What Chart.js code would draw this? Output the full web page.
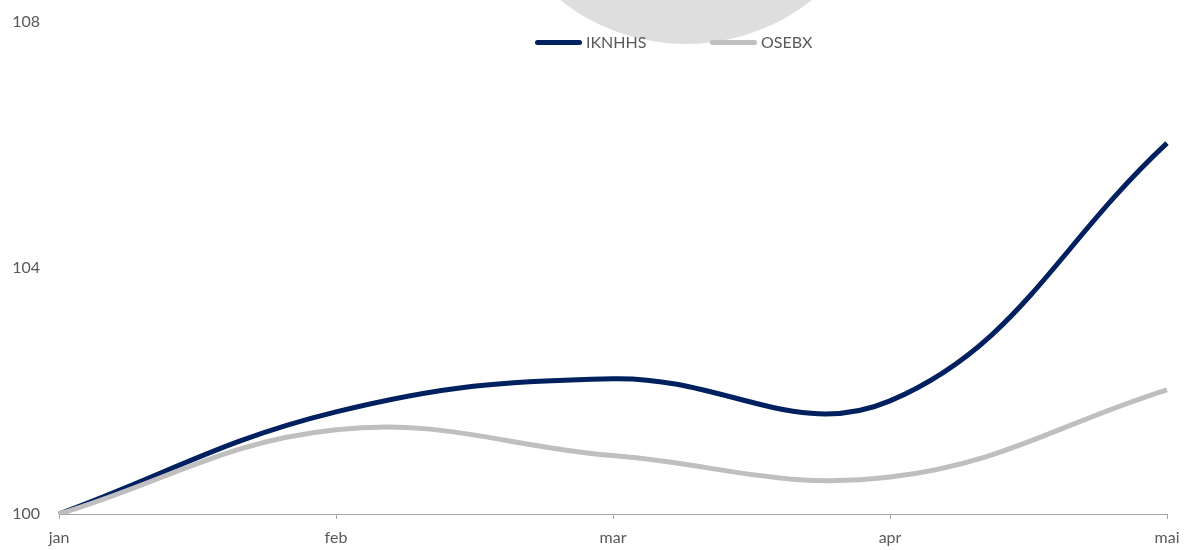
<!DOCTYPE html>
<html>
<head>
<meta charset="utf-8">
<script src="https://cdn.jsdelivr.net/npm/chart.js@4/dist/chart.umd.min.js"></script>
<style>
  html, body { margin: 0; padding: 0; background: #fff; }
  #wrap { position: relative; width: 1189px; height: 550px; }
  #legend { position: absolute; top: 32px; left: 0; font-family: Lato, "Open Sans", sans-serif; font-size: 16px; color: #595959; white-space: nowrap; }
  #legend span.item { position: absolute; top: 0; }
  #legend span.swatch { display: inline-block; width: 47px; height: 5px; border-radius: 3px; vertical-align: middle; margin-right: 4px; position: relative; top: -1px; }
</style>
</head>
<body>
<div id="wrap">
  <canvas id="lineChart" width="1189" height="550"></canvas>
  <div id="legend"></div>
</div>
<script>
var months = ['jan', 'feb', 'mar', 'apr', 'mai'];
var iknhhs = [100, 101.66, 102.2, 101.84, 106.03];
var osebx = [100, 101.37, 100.95, 100.6, 102.02];
var yTicks = [100, 104, 108];

var seriesNames = ['IKNHHS', 'OSEBX'];
var seriesColors = ['#002060', '#BFBFBF'];
var legendLeft = [535, 710];

// grey blob behind the legend
var blob = {
  id: 'blob',
  beforeDraw: function(chart) {
    var ctx = chart.ctx;
    ctx.save();
    ctx.fillStyle = '#DEDEDE';
    ctx.beginPath();
    ctx.arc(686, -158, 202, 0, Math.PI * 2);
    ctx.fill();
    ctx.restore();
  }
};

var font = { family: 'Lato, "Open Sans", sans-serif', size: 16 };

new Chart(document.getElementById('lineChart'), {
  type: 'line',
  data: {
    labels: months,
    datasets: [
      { label: seriesNames[0], data: iknhhs, borderColor: seriesColors[0], borderWidth: 5, pointRadius: 0, tension: 0.4, fill: false },
      { label: seriesNames[1], data: osebx, borderColor: seriesColors[1], borderWidth: 5, pointRadius: 0, tension: 0.4, fill: false }
    ].reverse()
  },
  options: {
    responsive: false,
    animation: false,
    layout: { padding: { top: 22, right: 22, bottom: 0, left: 0 } },
    plugins: { legend: { display: false }, tooltip: { enabled: false } },
    scales: {
      x: {
        offset: false,
        grid: { drawOnChartArea: false, drawTicks: true, tickLength: 5, color: '#A6A6A6' },
        border: { display: true, color: '#A6A6A6', width: 1 },
        ticks: { color: '#595959', font: font, padding: 9, maxRotation: 0 },
        afterFit: function(scale) { scale.height = 36; scale.paddingLeft = 0; scale.paddingRight = 0; }
      },
      y: {
        min: 100,
        max: 108,
        grid: { display: false },
        border: { display: false },
        afterBuildTicks: function(scale) { scale.ticks = yTicks.map(function(v) { return { value: v }; }); },
        ticks: { color: '#595959', font: font, padding: 11 },
        afterFit: function(scale) { scale.width = 59; scale.paddingTop = 0; scale.paddingBottom = 0; }
      }
    }
  },
  plugins: [blob]
});

var legend = document.getElementById('legend');
seriesNames.forEach(function(name, i) {
  var item = document.createElement('span');
  item.className = 'item';
  item.style.left = legendLeft[i] + 'px';
  item.innerHTML = '<span class="swatch" style="background:' + seriesColors[i] + '"></span>' + name;
  legend.appendChild(item);
});
</script>
</body>
</html>
